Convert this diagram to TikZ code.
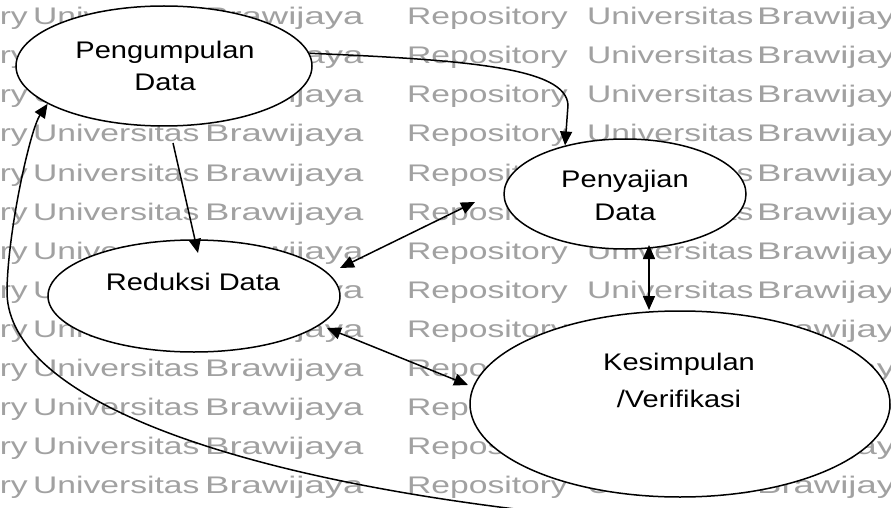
\documentclass[tikz,border=0pt]{standalone}
\usepackage{fontspec}
\setmainfont{Liberation Sans}
\usetikzlibrary{shapes.geometric,arrows.meta}
\newcommand{\wmk}[1]{\scalebox{1.40}[1]{#1}}
\newcommand{\wmb}[1]{\scalebox{1.52}[1]{#1}}
\newcommand{\txs}[1]{\scalebox{1.21}[1]{#1}}
\begin{document}
\begin{tikzpicture}[x=1pt,y=-1pt,
 proc/.style={ellipse,draw,fill=white,line width=1.5pt,inner sep=0pt},
 lbl/.style={align=center,inner sep=0pt},
 wm/.style={font=\fontsize{24}{28}\selectfont,text=black!37,inner sep=0pt},
 conn/.style={line width=1.5pt,-{Triangle[length=14pt,width=12pt]}},
 conn2/.style={line width=1.5pt,{Triangle[length=14pt,width=12pt]}-{Triangle[length=14pt,width=12pt]}}]
\useasboundingbox (0,0) rectangle (891,508);
\fill[white] (0,0) rectangle (891,508);
% watermark
\begin{scope}
\clip (0,0) rectangle (891,508);
\foreach \k in {0,...,12}{
  \pgfmathsetmacro\yy{25+39*\k}
  \node[wm,anchor=base east] (wa\k) at (28,\yy) {\wmk{Repository}};
  \node[wm,anchor=base west] (wb\k) at (33,\yy) {\wmk{Universitas}};
  \node[wm,anchor=base west] (wc\k) at (205,\yy) {\wmb{Brawijaya}};
  \node[wm,anchor=base west] (wd\k) at (407,\yy) {\wmk{Repository}};
  \node[wm,anchor=base west] (we\k) at (587,\yy) {\wmk{Universitas}};
  \node[wm,anchor=base west] (wf\k) at (757,\yy) {\wmb{Brawijaya}};
}
\end{scope}
% process ellipses
\node[proc,minimum width=296pt,minimum height=120pt] (pd) at (164,66) {};
\node[proc,minimum width=242pt,minimum height=110pt] (py) at (625,194) {};
\node[proc,minimum width=292pt,minimum height=112pt] (rd) at (194,296) {};
\node[proc,minimum width=420pt,minimum height=186pt] (ks) at (680,404) {};
% labels
\node[lbl,font=\fontsize{24}{32}\selectfont] (tpd) at (165,66) {\txs{Pengumpulan}\\\txs{Data}};
\node[lbl,font=\fontsize{24}{33}\selectfont] (tpy) at (625,195) {\txs{Penyajian}\\\txs{Data}};
\node[lbl,font=\fontsize{24}{32}\selectfont,anchor=base] (trd) at (193,290) {\txs{Reduksi Data}};
\node[lbl,font=\fontsize{24}{37}\selectfont] (tks) at (679,380) {\txs{Kesimpulan}\\\txs{/Verifikasi}};
% free connector ends
\coordinate (a2s) at (173,143);
\coordinate (a2e) at (198,253);
\coordinate (a3s) at (475,202);
\coordinate (a3e) at (340,268);
\coordinate (a4s) at (649,245);
\coordinate (a4e) at (649,310);
\coordinate (a5s) at (327,328);
\coordinate (a5e) at (468,385);
\coordinate (rs) at (515,509);
% connectors
\draw[conn] (pd.5) .. controls (470,60) and (566,68) .. (568,105) -- (py.141);
\draw[conn] (a2s) -- (a2e);
\draw[conn2] (a3s) -- (a3e);
\draw[conn2] (a4s) -- (a4e);
\draw[conn2] (a5s) -- (a5e);
\draw[conn] (rs) .. controls (200,470) and (5,390) .. (7,290) .. controls (8,230) and (30,130) .. (pd.198);
\end{tikzpicture}
\end{document}
